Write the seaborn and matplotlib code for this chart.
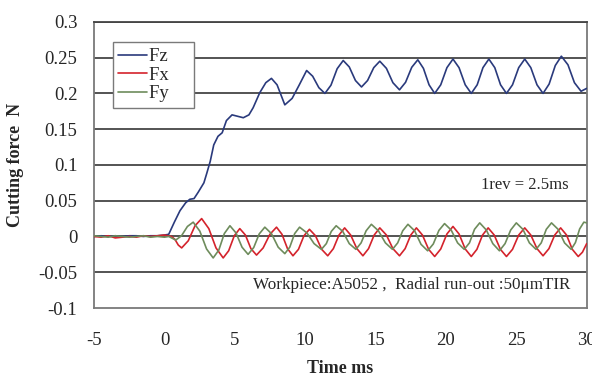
import numpy as np
import pandas as pd
import matplotlib
matplotlib.use("Agg")
import matplotlib.pyplot as plt
import seaborn as sns
from matplotlib.ticker import FuncFormatter
from matplotlib.lines import Line2D

# --- data (time in ms, force in N) ---
fz_t = [-5, -4.5, -4, -3.5, -3, -2.5, -2, -1.5, -1, -0.5, 0, 0.3, 0.7, 1.1, 1.5, 1.8,
        2.1, 2.4, 2.8, 3.0, 3.25, 3.5, 3.8, 4.1, 4.4, 4.8, 5.2, 5.6, 6.0, 6.3, 6.77,
        7.2, 7.6, 8.0, 8.55, 9.07, 9.58, 10.1, 10.53, 10.97, 11.4, 11.83, 12.27,
        12.7, 13.13, 13.57, 14.0, 14.43, 14.87, 15.3, 15.77, 16.23, 16.7, 17.13,
        17.57, 18.0, 18.4, 18.8, 19.2, 19.63, 20.07, 20.5, 20.93, 21.37, 21.8,
        22.22, 22.63, 23.05, 23.47, 23.88, 24.3, 24.73, 25.17, 25.6, 26.03, 26.47,
        26.9, 27.33, 27.77, 28.2, 28.67, 29.13, 29.6, 30.0]
fz_v = [0.0, 0.001, 0.0, 0.001, 0.0, 0.001, 0.001, 0.0, 0.001, 0.001, 0.002, 0.003,
        0.02, 0.036, 0.047, 0.052, 0.053, 0.062, 0.075, 0.088, 0.105, 0.128, 0.14,
        0.145, 0.162, 0.17, 0.168, 0.166, 0.17, 0.18, 0.201, 0.215, 0.221, 0.212,
        0.184, 0.193, 0.212, 0.232, 0.224, 0.208, 0.2, 0.2115, 0.2345, 0.246, 0.237,
        0.218, 0.209, 0.218, 0.236, 0.245, 0.235, 0.215, 0.205, 0.2155, 0.2365,
        0.247, 0.235, 0.212, 0.2, 0.212, 0.236, 0.248, 0.236, 0.212, 0.2, 0.212,
        0.236, 0.248, 0.236, 0.212, 0.2, 0.212, 0.236, 0.248, 0.236, 0.212, 0.2,
        0.213, 0.239, 0.252, 0.24, 0.215, 0.203, 0.207]

fx_t = [-5, -4.5, -4, -3.5, -3, -2.5, -2, -1.5, -1, -0.5, 0, 0.5, 0.74, 0.98, 1.22,
        1.69, 2.17, 2.64, 3.15, 3.66, 4.17, 4.56, 4.96, 5.35, 5.75, 6.14, 6.54,
        7.01, 7.49, 7.96, 8.35, 8.74, 9.13, 9.52, 9.91, 10.3, 10.73, 11.17, 11.6,
        12.0, 12.4, 12.8, 13.23, 13.67, 14.1, 14.5, 14.9, 15.3, 15.77, 16.23, 16.7,
        17.1, 17.5, 17.9, 18.33, 18.77, 19.2, 19.63, 20.07, 20.5, 20.93, 21.37,
        21.8, 22.2, 22.6, 23.0, 23.43, 23.87, 24.3, 24.73, 25.17, 25.6, 26.03,
        26.47, 26.9, 27.32, 27.73, 28.15, 28.57, 28.98, 29.4, 29.7, 30.0]
fx_v = [0.0, -0.001, 0.001, -0.002, -0.001, 0.0, -0.001, 0.001, 0.0, 0.001, 0.002,
        0.0, -0.004, -0.012, -0.016, -0.006, 0.015, 0.025, 0.011, -0.016, -0.03,
        -0.02, 0.001, 0.011, 0.002, -0.017, -0.026, -0.016, 0.003, 0.013, 0.003,
        -0.017, -0.027, -0.018, 0.001, 0.01, 0.001, -0.018, -0.027, -0.017, 0.002,
        0.012, 0.002, -0.017, -0.027, -0.017, 0.002, 0.012, 0.002, -0.017, -0.027,
        -0.017, 0.002, 0.012, 0.002, -0.018, -0.028, -0.0175, 0.0035, 0.014,
        0.0035, -0.0175, -0.028, -0.018, 0.002, 0.012, 0.002, -0.018, -0.028,
        -0.018, 0.002, 0.012, 0.002, -0.017, -0.027, -0.017, 0.002, 0.012, 0.002,
        -0.018, -0.028, -0.022, -0.01]

fy_t = [-5, -4.5, -4, -3.5, -3, -2.5, -2, -1.5, -1, -0.5, 0, 0.3, 0.8, 1.21, 1.63,
        2.04, 2.51, 2.99, 3.46, 3.86, 4.25, 4.65, 5.08, 5.51, 5.94, 6.34, 6.73,
        7.13, 7.6, 8.08, 8.55, 8.9, 9.25, 9.6, 10.12, 10.63, 11.15, 11.5, 11.85,
        12.2, 12.67, 13.13, 13.6, 13.97, 14.33, 14.7, 15.2, 15.7, 16.2, 16.57,
        16.93, 17.3, 17.77, 18.23, 18.7, 19.1, 19.5, 19.9, 20.37, 20.83, 21.3,
        21.67, 22.03, 22.4, 22.87, 23.33, 23.8, 24.2, 24.6, 25.0, 25.47, 25.93,
        26.4, 26.77, 27.13, 27.5, 27.97, 28.43, 28.9, 29.2, 29.5, 29.8, 30.0]
fy_v = [0.001, 0.0, -0.001, 0.001, 0.0, -0.001, 0.0, 0.001, -0.001, 0.0, -0.001,
        0.0, -0.005, 0.001, 0.014, 0.02, 0.0075, -0.0175, -0.03, -0.019, 0.004,
        0.015, 0.005, -0.015, -0.025, -0.0155, 0.0035, 0.013, 0.004, -0.015,
        -0.024, -0.015, 0.004, 0.013, 0.005, -0.01, -0.018, -0.01, 0.007, 0.015,
        0.007, -0.01, -0.018, -0.009, 0.008, 0.017, 0.008, -0.009, -0.018, -0.009,
        0.008, 0.017, 0.008, -0.011, -0.02, -0.0105, 0.0085, 0.018, 0.009, -0.009,
        -0.018, -0.009, 0.01, 0.019, 0.009, -0.01, -0.02, -0.01, 0.009, 0.019,
        0.01, -0.009, -0.018, -0.009, 0.01, 0.019, 0.01, -0.009, -0.018, -0.0085,
        0.0105, 0.02, 0.019]

series_names = ["Fz", "Fx", "Fy"]
series_colors = {"Fz": "#2a3a7c", "Fx": "#d4232c", "Fy": "#6e8c5c"}

x_ticks = [-5, 0, 5, 10, 15, 20, 25, 30]
y_ticks = [-0.1, -0.05, 0, 0.05, 0.1, 0.15, 0.2, 0.25, 0.3]

df = pd.concat([
    pd.DataFrame({"t": fz_t, "F": fz_v, "series": "Fz"}),
    pd.DataFrame({"t": fx_t, "F": fx_v, "series": "Fx"}),
    pd.DataFrame({"t": fy_t, "F": fy_v, "series": "Fy"}),
], ignore_index=True)

# --- style ---
sns.set_style("white")
plt.rcParams['font.family'] = ['Liberation Serif', 'DejaVu Serif']

fig = plt.figure(figsize=(5.92, 3.77), dpi=100)
ax = fig.add_axes([0.159, 0.183, 0.832, 0.759])

# gridlines first so curves sit on top
for yv in y_ticks[1:]:
    ax.axhline(yv, color="#454545", linewidth=1.3, zorder=1)

sns.lineplot(data=df, x="t", y="F", hue="series", hue_order=series_names,
             palette=series_colors, sort=False, estimator=None,
             linewidth=1.2, legend=False, ax=ax, zorder=3)

ax.set_xlim(-5, 30)
ax.set_ylim(-0.1, 0.3)
ax.set_xticks(x_ticks)
ax.set_yticks(y_ticks)
ax.yaxis.set_major_formatter(FuncFormatter(lambda v, p: f"{v:g}"))
ax.xaxis.set_major_formatter(FuncFormatter(lambda v, p: f"{v:g}"))
ax.tick_params(axis="x", direction="in", length=5, width=1, color="#606060",
               pad=17, labelsize=13.5)
ax.tick_params(axis="y", length=0, pad=12, labelsize=13.5)

for side in ["left", "bottom", "right"]:
    ax.spines[side].set_color("#7a7a7a")
    ax.spines[side].set_linewidth(1.3)
ax.spines["top"].set_color("#454545")
ax.spines["top"].set_linewidth(1.3)

ax.set_xlabel("Time ms", fontsize=13, fontweight="bold", labelpad=8.5)
ax.set_ylabel("Cutting force  N", fontsize=13, fontweight="bold", labelpad=10)

# legend
handles = [Line2D([0], [0], color=series_colors[s], lw=1.2) for s in series_names]
labels = [s + "    " for s in series_names]
leg = ax.legend(handles, labels, loc="upper left", bbox_to_anchor=(0.038, 0.928),
                fontsize=13.5, frameon=True, fancybox=False, handlelength=1.5,
                handletextpad=0.15, labelspacing=0.08, borderpad=0.3,
                borderaxespad=0, framealpha=1)
leg.get_frame().set_edgecolor("#7a7a7a")
leg.get_frame().set_linewidth(1.0)
leg.set_zorder(5)

ax.text(28.75, 0.072, "1rev = 2.5ms", fontsize=12, ha="right", va="center")
ax.text(28.85, -0.068, "Workpiece:A5052 ,  Radial run-out :50\u03bcmTIR",
        fontsize=12.3, ha="right", va="center")

fig.savefig("out.png", dpi=100)
